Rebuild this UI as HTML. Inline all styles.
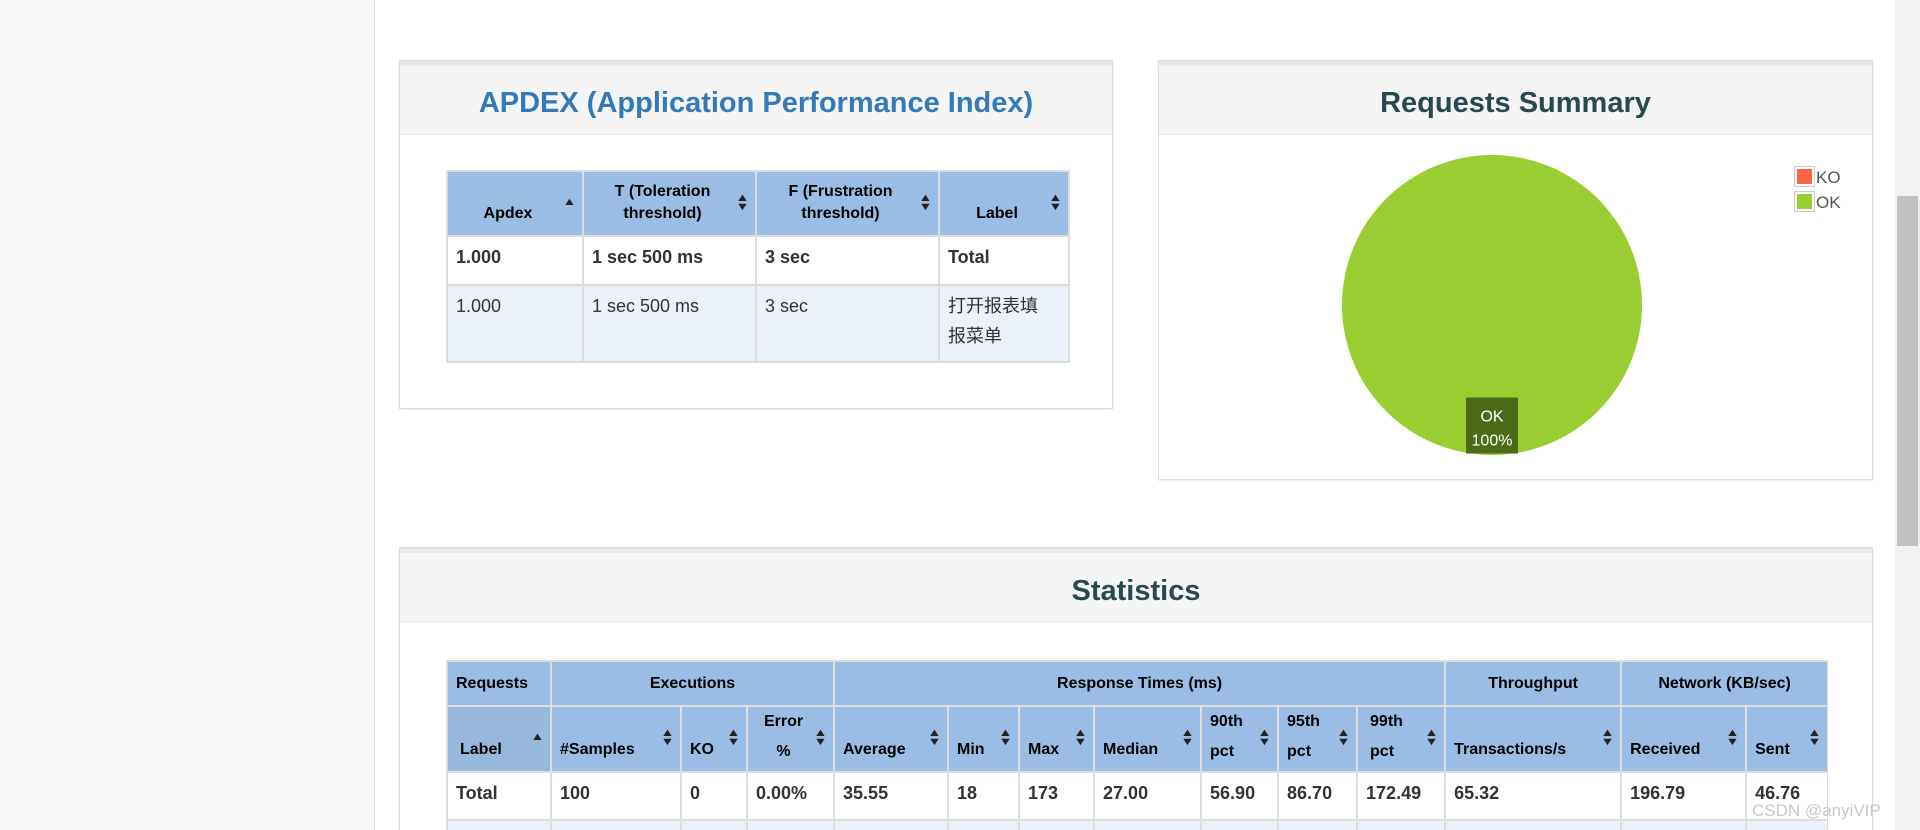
<!DOCTYPE html>
<html style="width:1920px;height:830px;overflow:hidden"><head><meta charset="utf-8">
<style>
*{box-sizing:border-box;margin:0;padding:0}
body{width:1920px;height:830px;overflow:hidden;background:#fff;font-family:"Liberation Sans","Noto Sans CJK SC",sans-serif;position:relative;color:#333}
.abs{position:absolute}
.panel{position:absolute;background:#fff;border:1px solid #ddd;box-shadow:0 1px 2px rgba(0,0,0,.08)}
.phead{position:absolute;left:0;right:0;top:0;background:#f5f5f5;border-top:5px solid #e6e9ec;border-bottom:1px solid #e8e8e8;text-align:center;font-weight:bold;font-size:29px}
table{border-collapse:collapse;position:absolute;table-layout:fixed}
td,th{border:2px solid #ddd;vertical-align:top}
th{background:#9bbde5;color:#000;font-size:16px;font-weight:bold;position:relative;vertical-align:bottom;padding:0 22px 10px 8px;text-align:left;line-height:22px}
th .s{position:absolute;right:7px;top:50%;margin-top:-10px;font-size:11px;line-height:9px;color:#222;transform:scaleX(1.3)}
td{font-size:18px;padding:10px 8px}
</style></head><body>
<div class="abs" style="left:0;top:0;width:375px;height:830px;background:#f8f8f8;border-right:1px solid #e3e3e3"></div>
<div class="abs" style="left:1895px;top:0;width:25px;height:830px;background:#f1f1f1"></div>
<div class="abs" style="left:1897px;top:196px;width:21px;height:350px;background:#c1c1c1"></div>

<div class="panel" style="left:399px;top:60px;width:714px;height:349px">
 <div class="phead" style="height:74px;line-height:74px;color:#337ab7">APDEX (Application Performance Index)</div>
</div>
<table style="left:446px;top:170px;width:622px">
 <colgroup><col style="width:136px"><col style="width:173px"><col style="width:183px"><col style="width:130px"></colgroup>
 <tr style="height:65px">
  <th style="background:#9bbde3;text-align:center">Apdex<span class="s" style="margin-top:-6px">▲</span></th>
  <th style="text-align:center">T (Toleration threshold)<span class="s">▲<br>▼</span></th>
  <th style="text-align:center">F (Frustration threshold)<span class="s">▲<br>▼</span></th>
  <th style="text-align:center">Label<span class="s">▲<br>▼</span></th>
 </tr>
 <tr style="height:49px;font-weight:bold"><td style="font-weight:bold">1.000</td><td style="font-weight:bold">1 sec 500 ms</td><td style="font-weight:bold">3 sec</td><td style="font-weight:bold">Total</td></tr>
 <tr style="height:77px;background:#eaf1fa"><td>1.000</td><td>1 sec 500 ms</td><td>3 sec</td><td style="line-height:30px;padding-top:5px;padding-right:20px">打开报表填报菜单</td></tr>
</table>

<div class="panel" style="left:1158px;top:60px;width:715px;height:420px">
 <div class="phead" style="height:74px;line-height:74px;color:#28494f">Requests Summary</div>
</div>
<svg class="abs" id="pie" style="left:0;top:0" width="1920" height="830"></svg>

<div class="panel" style="left:399px;top:547px;width:1474px;height:283px;border-bottom:none">
 <div class="phead" style="height:74px;line-height:76px;color:#28494f">Statistics</div>
</div>
<div class="abs" style="left:446px;top:660px;width:1382px;height:170px;overflow:hidden">
<table style="left:0;top:0;width:1381px">
 <colgroup><col style="width:104px"><col style="width:130px"><col style="width:66px"><col style="width:87px"><col style="width:114px"><col style="width:71px"><col style="width:75px"><col style="width:107px"><col style="width:77px"><col style="width:79px"><col style="width:88px"><col style="width:176px"><col style="width:125px"><col style="width:82px"></colgroup>
 <tr style="height:45px">
  <th style="vertical-align:middle;padding:0 8px">Requests</th>
  <th colspan="3" style="text-align:center;vertical-align:middle;padding:0">Executions</th>
  <th colspan="7" style="text-align:center;vertical-align:middle;padding:0">Response Times (ms)</th>
  <th style="text-align:center;vertical-align:middle;padding:0">Throughput</th>
  <th colspan="2" style="text-align:center;vertical-align:middle;padding:0">Network (KB/sec)</th>
 </tr>
 <tr style="height:66px">
  <th style="background:#98b8db;padding-left:12px">Label<span class="s" style="margin-top:-6px">▲</span></th>
  <th>#Samples<span class="s">▲<br>▼</span></th>
  <th>KO<span class="s">▲<br>▼</span></th>
  <th style="text-align:center;padding-bottom:4px;line-height:30px">Error<br>%<span class="s">▲<br>▼</span></th>
  <th>Average<span class="s">▲<br>▼</span></th>
  <th>Min<span class="s">▲<br>▼</span></th>
  <th>Max<span class="s">▲<br>▼</span></th>
  <th>Median<span class="s">▲<br>▼</span></th>
  <th style="line-height:30px;padding-bottom:4px">90th<br>pct<span class="s">▲<br>▼</span></th>
  <th style="line-height:30px;padding-bottom:4px">95th<br>pct<span class="s">▲<br>▼</span></th>
  <th style="line-height:30px;padding-bottom:4px;padding-left:12px">99th<br>pct<span class="s">▲<br>▼</span></th>
  <th>Transactions/s<span class="s">▲<br>▼</span></th>
  <th>Received<span class="s">▲<br>▼</span></th>
  <th>Sent<span class="s">▲<br>▼</span></th>
 </tr>
 <tr style="height:48px;font-weight:bold">
  <td><b>Total</b></td><td><b>100</b></td><td><b>0</b></td><td><b>0.00%</b></td><td><b>35.55</b></td><td><b>18</b></td><td><b>173</b></td><td><b>27.00</b></td><td><b>56.90</b></td><td><b>86.70</b></td><td><b>172.49</b></td><td><b>65.32</b></td><td><b>196.79</b></td><td><b>46.76</b></td>
 </tr>
 <tr style="height:40px;background:#eaf1fa"><td></td><td></td><td></td><td></td><td></td><td></td><td></td><td></td><td></td><td></td><td></td><td></td><td></td><td></td></tr>
</table>
</div>
<div class="abs" style="left:1752px;top:801px;font-size:17px;color:#c8c8c8">CSDN @anyiVIP</div>

<script>
const categories = ["KO", "OK"];
const values = [0, 100];
const colors = ["#ff6347", "#9acd32"];
const NS = "http://www.w3.org/2000/svg";
const svg = document.getElementById("pie");
const cx = 1492, cy = 305, r = 150;
const total = values.reduce((a, b) => a + b, 0);
function pt(a){return [cx + r*Math.sin(a), cy - r*Math.cos(a)];}
let ang = 0;
values.forEach((v, i) => {
  if (v <= 0) return;
  const frac = v / total;
  let el;
  if (frac >= 0.9999) {
    el = document.createElementNS(NS, "circle");
    el.setAttribute("cx", cx); el.setAttribute("cy", cy); el.setAttribute("r", r);
  } else {
    const a0 = ang, a1 = ang + frac*2*Math.PI;
    const p0 = pt(a0), p1 = pt(a1);
    el = document.createElementNS(NS, "path");
    el.setAttribute("d", `M${cx},${cy}L${p0[0]},${p0[1]}A${r},${r} 0 ${frac>0.5?1:0} 1 ${p1[0]},${p1[1]}Z`);
  }
  el.setAttribute("fill", colors[i]);
  
  
  svg.appendChild(el);
  const mid = ang + frac*Math.PI;
  const lx = cx + (r*0.81)*Math.sin(mid), ly = cy - (r*0.81)*Math.cos(mid);
  const g = document.createElementNS(NS, "g");
  
  
  const rect = document.createElementNS(NS, "rect");
  rect.setAttribute("x", lx - 26); rect.setAttribute("y", ly - 29);
  rect.setAttribute("width", 52); rect.setAttribute("height", 56);
  rect.setAttribute("fill", "#4c6b19");
  g.appendChild(rect);
  const t1 = document.createElementNS(NS, "text");
  t1.setAttribute("x", lx); t1.setAttribute("y", ly - 5);
  t1.setAttribute("text-anchor", "middle"); t1.setAttribute("fill", "#fff");
  t1.setAttribute("font-size", "16"); t1.setAttribute("font-family", "Liberation Sans, sans-serif");
  t1.textContent = categories[i];
  g.appendChild(t1);
  const t2 = document.createElementNS(NS, "text");
  t2.setAttribute("x", lx); t2.setAttribute("y", ly + 19);
  t2.setAttribute("text-anchor", "middle"); t2.setAttribute("fill", "#fff");
  t2.setAttribute("font-size", "16"); t2.setAttribute("font-family", "Liberation Sans, sans-serif");
  t2.textContent = Math.round(frac*100) + "%";
  g.appendChild(t2);
  svg.appendChild(g);
  ang += frac*2*Math.PI;
});
categories.forEach((c, i) => {
  const y = 166 + i*25;
  const g = document.createElementNS(NS, "g");
  
  
  const b = document.createElementNS(NS, "rect");
  b.setAttribute("x", 1794.5); b.setAttribute("y", y + 0.5); b.setAttribute("width", 20); b.setAttribute("height", 20);
  b.setAttribute("fill", "#fff"); b.setAttribute("stroke", "#ccc");
  g.appendChild(b);
  const s = document.createElementNS(NS, "rect");
  s.setAttribute("x", 1797); s.setAttribute("y", y + 3); s.setAttribute("width", 15); s.setAttribute("height", 15);
  s.setAttribute("fill", colors[i]);
  g.appendChild(s);
  const t = document.createElementNS(NS, "text");
  t.setAttribute("x", 1816); t.setAttribute("y", y + 17);
  t.setAttribute("fill", "#545454"); t.setAttribute("font-size", "17");
  t.setAttribute("font-family", "Liberation Sans, sans-serif");
  t.textContent = c;
  g.appendChild(t);
  svg.appendChild(g);
});
</script>
</body></html>
